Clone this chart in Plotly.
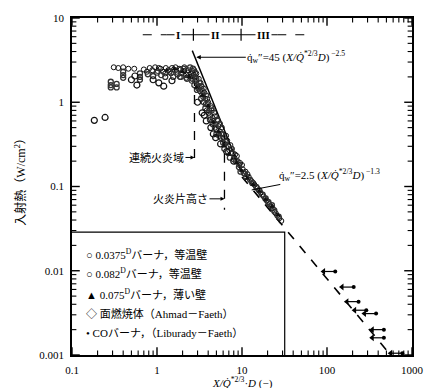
import math
import plotly.graph_objects as go

# ---------------- data ----------------
# 0.0375 m burner, isothermal wall (open circles)
b1_x = [0.31, 0.35, 0.40, 0.46, 0.54, 0.70, 0.76, 0.82, 0.88, 0.95, 1.02, 1.10, 1.18, 1.27, 1.36, 1.46,
        1.58, 1.70, 1.82, 1.95, 2.08, 2.20, 2.35, 2.50,
        1.50, 1.65, 1.90, 2.10, 2.30, 2.45, 2.60, 2.55, 2.20, 1.85, 1.25, 1.05,
        2.70, 2.80, 2.90, 3.00, 3.10, 3.20, 3.35, 3.50, 3.60, 3.75, 3.90, 4.10, 4.30, 4.50, 4.70, 4.90,
        5.20, 5.50, 5.80, 6.10, 6.50, 6.90, 7.30, 7.80, 8.30, 8.90, 9.50, 10.2, 11.0, 12.0, 13.0, 14.0,
        15.2, 16.5, 18.0, 19.5, 21.0, 23.0, 25.0, 27.5,
        2.75, 2.85, 3.05, 3.25, 3.40, 3.55, 3.70, 3.85, 4.00, 4.20, 4.40, 4.60, 4.80, 5.00, 5.30, 5.60,
        5.90, 6.30, 6.70, 7.10, 7.60, 8.10, 8.70, 9.30, 10.0, 10.8, 11.6, 12.5, 13.6, 14.6, 15.8, 17.2,
        18.8, 20.2, 22.0, 24.0, 26.0, 29.0]
b1_y = [2.60, 2.55, 2.60, 2.50, 2.50, 2.45, 2.30, 2.55, 2.40, 2.60, 2.35, 2.50, 2.30, 2.55, 2.40, 2.20,
        2.45, 2.30, 2.50, 2.20, 2.35, 2.10, 2.40, 2.20,
        2.55, 2.60, 2.45, 2.60, 2.25, 2.00, 2.35, 1.80, 1.95, 2.00, 2.20, 2.55,
        2.10, 1.80, 2.20, 1.60, 1.90, 1.35, 1.55, 1.15, 1.30, 0.95, 1.10, 0.80, 0.90, 0.65, 0.75, 0.55,
        0.60, 0.45, 0.50, 0.38, 0.40, 0.30, 0.31, 0.25, 0.24, 0.20, 0.19, 0.16, 0.15, 0.13, 0.115, 0.105,
        0.095, 0.085, 0.076, 0.068, 0.062, 0.055, 0.048, 0.042,
        2.40, 2.00, 1.45, 1.70, 1.25, 1.45, 1.10, 0.80, 1.00, 0.70, 0.85, 0.60, 0.68, 0.48, 0.52, 0.38,
        0.42, 0.32, 0.35, 0.27, 0.28, 0.22, 0.23, 0.18, 0.18, 0.14, 0.14, 0.12, 0.11, 0.10, 0.090, 0.080,
        0.071, 0.066, 0.058, 0.050, 0.045, 0.039]

# 0.082 m burner, isothermal wall
b2_x = [0.286, 0.286, 0.286, 0.335, 0.335, 0.40, 0.40, 0.40, 0.63, 0.63, 0.63,
        0.78, 0.90, 1.00, 1.12, 1.25, 1.40, 1.55, 1.75, 1.90, 2.05, 2.25, 2.45, 2.60,
        2.75, 2.95, 3.15, 3.30, 3.45, 3.70, 3.95, 4.20, 4.40, 4.80, 5.10, 5.40, 5.70, 6.00,
        6.40, 6.80, 7.50, 8.00, 9.20, 10.5, 12.5, 14.8, 17.5, 20.5, 24.0,
        2.65, 2.80, 2.90, 3.10, 3.30, 3.55, 3.80, 4.05, 4.50, 5.00, 5.50, 6.20, 7.20, 8.50, 9.60,
        11.2, 13.2, 16.0, 19.0, 22.5, 27.0]
b2_y = [1.75, 1.60, 1.50, 1.65, 1.50, 2.30, 2.10, 1.95, 2.20, 2.00, 1.85,
        2.15, 2.05, 2.25, 2.10, 2.00, 2.30, 2.00, 2.15, 2.00, 2.50, 1.90, 2.60, 1.90,
        1.60, 1.40, 1.70, 1.10, 1.35, 0.85, 0.95, 0.62, 0.80, 0.50, 0.62, 0.40, 0.42, 0.33,
        0.34, 0.26, 0.28, 0.21, 0.17, 0.145, 0.12, 0.098, 0.080, 0.065, 0.052,
        2.50, 2.25, 1.90, 1.50, 1.55, 1.00, 1.20, 0.75, 0.55, 0.42, 0.55, 0.28, 0.22, 0.20, 0.15,
        0.13, 0.11, 0.090, 0.072, 0.060, 0.044]

# 0.075 m burner, thin wall (filled triangles)
b3_x = [1.3, 1.6, 2.0, 2.4, 2.9, 3.4, 4.0, 4.6, 5.3, 6.2, 7.0, 8.6, 9.8, 11.5, 13.5, 16.0, 19.0, 22.5, 26.5]
b3_y = [2.4, 2.5, 2.3, 2.0, 1.5, 1.2, 0.9, 0.58, 0.45, 0.30, 0.24, 0.19, 0.155, 0.125, 0.105, 0.088, 0.070, 0.058, 0.046]

# Ahmad-Faeth wall fire
af_x = [0.183, 0.245, 0.50, 0.55, 0.58, 0.90, 1.05, 1.20, 1.50, 3.0, 3.4, 3.6, 3.8, 4.3, 4.6, 4.9, 5.6, 6.6, 8.0]
af_y = [0.61, 0.66, 1.85, 2.05, 1.60, 1.85, 1.70, 1.55, 1.80, 1.00, 0.75, 0.70, 0.60, 0.50, 0.42, 0.38, 0.32, 0.26, 0.20]

# CO burner (Liburady-Faeth), upper bounds (arrows to the left)
co_x = [125, 206, 235, 290, 378, 467, 467, 769]
co_y = [0.0098, 0.0064, 0.0043, 0.0034, 0.0031, 0.0020, 0.0016, 0.00105]

# correlation lines
fit1_x = [2.6, 10.0]
fit1_y = [4.1, 0.142]
fit2_x = [10.0, 560.0]
fit2_y = [0.13, 0.001]

# region markers
cont_flame_x = 2.76
cont_flame_y = [2.0, 0.178]
flame_h_x = 6.22
flame_h_y = [0.40, 0.053]
legend_box_x = [0.1, 31.8, 31.8]
legend_box_y = [0.0287, 0.0287, 0.001]
band_y = 6.33
band_dash1 = [0.68, 1.30]
band_solid = [1.30, 26.0]
band_dash2 = [26.0, 55.0]
band_marks = [2.68, 9.75]
band_labels = ["I", "II", "III"]
band_label_x = [1.77, 4.9, 17.9]

legend_labels = [
    "○ 0.0375<sup>D</sup>バーナ，等温壁",
    "○ 0.082<sup>D</sup>バーナ，等温壁",
    "▲ 0.075<sup>D</sup>バーナ，薄い壁",
    "◇ 面燃焼体（Ahmad－Faeth）",
    "• COバーナ，（Liburady－Faeth）",
]

x_decades = [-1, 0, 1, 2, 3]
y_decades = [-3, -2, -1, 0, 1]

SERIF = "Liberation Serif, Noto Sans CJK JP, serif"
INK = "#000000"
X_RANGE = [-1, 3]
Y_RANGE = [-3, 1]
PX_PER_DEC_X = 350 / 4
PX_PER_DEC_Y = 343 / 4

fig = go.Figure()

def line(xs, ys, dash="solid", width=1.2):
    fig.add_trace(go.Scatter(x=xs, y=ys, mode="lines", hoverinfo="skip",
                             line=dict(color=INK, width=width, dash=dash)))

# ---- axis tick marks (inside, on all four sides), derived from the decades ----
def tick_values(decades):
    major = [10.0 ** e for e in decades]
    minor = [k * 10.0 ** e for e in decades[:-1] for k in range(2, 10)]
    return major, minor

def add_ticks(values, length_px, width):
    xmin, xmax = 10 ** X_RANGE[0], 10 ** X_RANGE[1]
    ymin, ymax = 10 ** Y_RANGE[0], 10 ** Y_RANGE[1]
    fy = 10 ** (length_px / PX_PER_DEC_Y)
    fx = 10 ** (length_px / PX_PER_DEC_X)
    tx, ty = [], []
    for v in values[0]:
        tx += [v, v, None, v, v, None]
        ty += [ymin, ymin * fy, None, ymax, ymax / fy, None]
    for v in values[1]:
        tx += [xmin, xmin * fx, None, xmax, xmax / fx, None]
        ty += [v, v, None, v, v, None]
    fig.add_trace(go.Scatter(x=tx, y=ty, mode="lines", hoverinfo="skip", cliponaxis=False,
                             line=dict(color=INK, width=width)))

xmaj, xmin_ = tick_values(x_decades)
ymaj, ymin_ = tick_values(y_decades)
add_ticks((xmaj, ymaj), 8, 1.4)
add_ticks((xmin_, ymin_), 4.5, 1.1)

# legend box
line(legend_box_x, legend_box_y, width=1.2)
# flame region dashed verticals
line([cont_flame_x, cont_flame_x], cont_flame_y, dash="dash", width=1.3)
line([flame_h_x, flame_h_x], flame_h_y, dash="dash", width=1.3)
# correlations
line(fit1_x, fit1_y, width=1.4)
line(fit2_x, fit2_y, dash="dash", width=1.6)
# region band
line(band_dash1, [band_y, band_y], dash="dash", width=1.2)
line(band_solid, [band_y, band_y], width=1.2)
line(band_dash2, [band_y, band_y], dash="dash", width=1.2)
for bx in band_marks:
    line([bx, bx], [band_y * 1.18, band_y / 1.18], width=1.2)

# data series
fig.add_trace(go.Scatter(x=b1_x, y=b1_y, mode="markers", hoverinfo="skip",
                         marker=dict(symbol="circle-open", size=5, color="#111", line=dict(width=1, color="#111"))))
fig.add_trace(go.Scatter(x=b2_x, y=b2_y, mode="markers", hoverinfo="skip",
                         marker=dict(symbol="circle-open", size=5, color="#333", line=dict(width=1.3, color="#333"))))
fig.add_trace(go.Scatter(x=b3_x, y=b3_y, mode="markers", hoverinfo="skip",
                         marker=dict(symbol="triangle-up", size=5, color="#111")))
fig.add_trace(go.Scatter(x=af_x, y=af_y, mode="markers", hoverinfo="skip",
                         marker=dict(symbol="circle-open", size=6, color="#111", line=dict(width=1.2, color="#111"))))

# CO arrows: shaft to the left of each dot, arrowhead at left end
arrow_factor = 10 ** (12 / PX_PER_DEC_X)
sx, sy, hx, hy = [], [], [], []
for x, y in zip(co_x, co_y):
    sx += [x / arrow_factor, x, None]
    sy += [y, y, None]
    hx.append(x / arrow_factor)
    hy.append(y)
fig.add_trace(go.Scatter(x=sx, y=sy, mode="lines", hoverinfo="skip", line=dict(color=INK, width=1.2)))
fig.add_trace(go.Scatter(x=hx, y=hy, mode="markers", hoverinfo="skip",
                         marker=dict(symbol="triangle-left", size=6, color=INK)))
fig.add_trace(go.Scatter(x=co_x, y=co_y, mode="markers", hoverinfo="skip",
                         marker=dict(symbol="circle", size=4, color=INK)))

ann = []
lg = math.log10
# equation labels
ann.append(dict(x=lg(2.9), y=lg(3.42), xref="x", yref="y", ax=100, ay=0,
                text="q̇<sub>w</sub>″=45 (<i>X/Q̇</i><sup>*2/3</sup><i>D</i>)<sup> −2.5</sup>",
                showarrow=True, arrowhead=2, arrowsize=0.9, arrowwidth=1, arrowcolor=INK,
                font=dict(family=SERIF, size=11, color=INK)))
ann.append(dict(x=lg(13.0), y=lg(0.091), xref="x", yref="y", ax=78, ay=-15,
                text="q̇<sub>w</sub>″=2.5 (<i>X/Q̇</i><sup>*2/3</sup><i>D</i>)<sup> −1.3</sup>",
                showarrow=True, arrowhead=0, arrowwidth=1, arrowcolor=INK,
                font=dict(family=SERIF, size=11, color=INK)))
ann.append(dict(x=lg(cont_flame_x), y=lg(0.221), xref="x", yref="y", ax=-38, ay=0,
                text="連続火炎域", showarrow=True, arrowhead=2, arrowsize=0.8, arrowwidth=1,
                arrowcolor=INK, font=dict(family=SERIF, size=11, color=INK)))
ann.append(dict(x=lg(flame_h_x), y=lg(0.0714), xref="x", yref="y", ax=-44, ay=0,
                text="火炎片高さ", showarrow=True, arrowhead=2, arrowsize=0.8, arrowwidth=1,
                arrowcolor=INK, font=dict(family=SERIF, size=11, color=INK)))
for lab, lx in zip(band_labels, band_label_x):
    ann.append(dict(x=lg(lx), y=lg(band_y), xref="x", yref="y", text="<b>" + lab + "</b>",
                    showarrow=False, bgcolor="white", borderpad=1,
                    font=dict(family=SERIF, size=11, color=INK)))
# legend text rows
row_py = [252, 272, 293, 313, 333]
for lab, py in zip(legend_labels, row_py):
    ann.append(dict(x=(84 - 72) / 350, y=1 - (py - 12) / 343, xref="paper", yref="paper",
                    xanchor="left", yanchor="middle", text=lab, showarrow=False,
                    font=dict(family=SERIF, size=11, color=INK)))
# axis titles
ann.append(dict(x=(19 - 72) / 350, y=1 - (176 - 12) / 343, xref="paper", yref="paper",
                xanchor="center", yanchor="middle",
                text="入射熱（W/cm<sup>2</sup>）", textangle=-90, showarrow=False,
                font=dict(family=SERIF, size=12, color=INK)))
ann.append(dict(x=(248 - 72) / 350, y=-(383 - 355) / 343, xref="paper", yref="paper",
                xanchor="center", yanchor="middle",
                text="<i>X/Q̇</i><sup>*2/3</sup>·<i>D</i> (−)", showarrow=False,
                font=dict(family=SERIF, size=11, color=INK)))

axis_common = dict(type="log", showline=True, linecolor=INK, linewidth=1.5, mirror=True,
                   ticks="", showgrid=False, zeroline=False, dtick=1, exponentformat="none",
                   ticklabelstandoff=4,
                   tickfont=dict(family=SERIF, size=11, color=INK))
fig.update_layout(
    width=436, height=388,
    margin=dict(l=72, r=14, t=12, b=33),
    paper_bgcolor="white", plot_bgcolor="white",
    showlegend=False,
    annotations=ann,
    xaxis=dict(range=X_RANGE, **axis_common),
    yaxis=dict(range=Y_RANGE, **axis_common),
)
fig.write_html("out.html")
